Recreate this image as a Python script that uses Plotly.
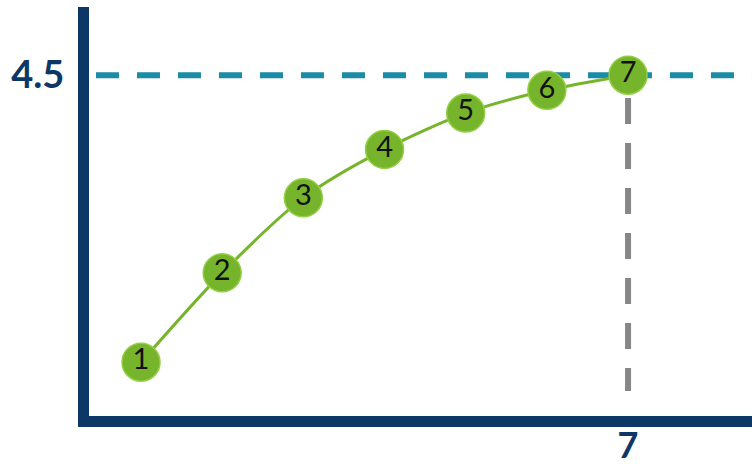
import plotly.graph_objects as go

# data
steps = [1, 2, 3, 4, 5, 6, 7]
values = [0.71, 1.89, 2.88, 3.52, 4.00, 4.30, 4.50]
labels = ["1", "2", "3", "4", "5", "6", "7"]
target_value = 4.5
target_step = 7
y_ticks = [4.5]
y_ticktext = ["4.5"]
x_ticks = [7]
x_ticktext = ["7"]

NAVY = "#0c3766"
TEAL = "#1b8ba6"
GRAY = "#878787"
GREEN = "#76b52b"

X_RANGE = [0.359, 8.527]
Y_RANGE = [0, 5.40]

fig = go.Figure()

# horizontal target line
fig.add_trace(go.Scatter(
    x=[0.445, X_RANGE[1]], y=[target_value, target_value],
    mode="lines", line=dict(color=TEAL, width=6, dash="23px,18px"),
    hoverinfo="skip", showlegend=False, cliponaxis=False))

# vertical drop line
fig.add_trace(go.Scatter(
    x=[target_step, target_step], y=[4.2, 0.33],
    mode="lines", line=dict(color=GRAY, width=6, dash="26px,19px"),
    hoverinfo="skip", showlegend=False))

# curve with numbered points
fig.add_trace(go.Scatter(
    x=steps, y=values, mode="lines+markers+text",
    text=labels, textposition="middle center",
    textfont=dict(family="Lato", size=29, color="#111111"),
    line=dict(color=GREEN, width=3, shape="spline", smoothing=0.8),
    marker=dict(size=38, color=GREEN, line=dict(color="#92cf45", width=1.5)),
    showlegend=False, cliponaxis=False))

fig.update_layout(
    width=752, height=466, autosize=False,
    margin=dict(l=89, r=0, t=7, b=50, autoexpand=False),
    paper_bgcolor="white", plot_bgcolor="white",
    font=dict(family="Lato", color=NAVY),
)
fig.update_xaxes(
    range=X_RANGE, showgrid=False, zeroline=False, automargin=False,
    showline=True, linecolor=NAVY, linewidth=11,
    tickmode="array", tickvals=x_ticks, ticktext=x_ticktext,
    ticks="", ticklabelstandoff=-12,
    tickfont=dict(family="Lato", size=36, color=NAVY, weight="bold"),
)
fig.update_yaxes(
    range=Y_RANGE, showgrid=False, zeroline=False, automargin=False,
    showline=True, linecolor=NAVY, linewidth=11,
    tickmode="array", tickvals=y_ticks, ticktext=y_ticktext,
    ticks="", ticklabelstandoff=6,
    tickfont=dict(family="Lato", size=38, color=NAVY, weight="bold"),
)

fig.write_html(
    "out.html",
    config={"responsive": False, "displayModeBar": False},
    post_script="document.body.style.margin='0';document.body.style.overflow='hidden';",
)
